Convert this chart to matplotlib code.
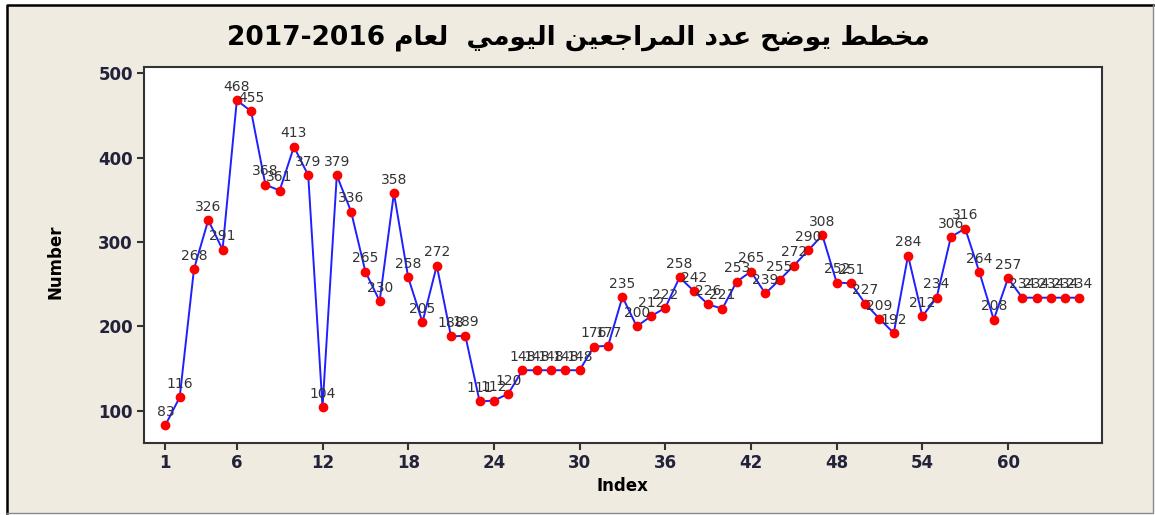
#!/usr/bin/env python
# -*- coding: utf-8 -*-
import numpy as np
import matplotlib
matplotlib.use('Agg')
import matplotlib.pyplot as plt
from matplotlib.patches import Rectangle
from matplotlib.lines import Line2D

# --- データ ---
index = list(range(1, 66))
visitors = [83, 116, 268, 326, 291, 468, 455, 368, 361, 413,
            379, 104, 379, 336, 265, 230, 358, 258, 205, 272,
            188, 189, 111, 112, 120, 148, 148, 148, 148, 148,
            176, 177, 235, 200, 212, 222, 258, 242, 226, 221,
            253, 265, 239, 255, 272, 290, 308, 252, 251, 227,
            209, 192, 284, 212, 234, 306, 316, 264, 208, 257,
            234, 234, 234, 234, 234]
xticks = [1, 6, 12, 18, 24, 30, 36, 42, 48, 54, 60]
yticks = [100, 200, 300, 400, 500]
title_ar = 'مخطط يوضح عدد المراجعين اليومي  لعام'
title_year = '2017-2016'

# アラビア文字の簡易シェーピング (iso, fin, ini, med)
FORMS = {
    'ا': ('\uFE8D', '\uFE8E', None, None),
    'ج': ('\uFE9D', '\uFE9E', '\uFE9F', '\uFEA0'),
    'ح': ('\uFEA1', '\uFEA2', '\uFEA3', '\uFEA4'),
    'خ': ('\uFEA5', '\uFEA6', '\uFEA7', '\uFEA8'),
    'د': ('\uFEA9', '\uFEAA', None, None),
    'ر': ('\uFEAD', '\uFEAE', None, None),
    'ض': ('\uFEBD', '\uFEBE', '\uFEBF', '\uFEC0'),
    'ط': ('\uFEC1', '\uFEC2', '\uFEC3', '\uFEC4'),
    'ع': ('\uFEC9', '\uFECA', '\uFECB', '\uFECC'),
    'ل': ('\uFEDD', '\uFEDE', '\uFEDF', '\uFEE0'),
    'م': ('\uFEE1', '\uFEE2', '\uFEE3', '\uFEE4'),
    'ن': ('\uFEE5', '\uFEE6', '\uFEE7', '\uFEE8'),
    'و': ('\uFEED', '\uFEEE', None, None),
    'ي': ('\uFEF1', '\uFEF2', '\uFEF3', '\uFEF4'),
}


def shape_arabic(text):
    out = []
    for i, ch in enumerate(text):
        if ch not in FORMS:
            out.append(ch)
            continue
        prev = text[i - 1] if i > 0 else ''
        nxt = text[i + 1] if i + 1 < len(text) else ''
        join_prev = prev in FORMS and FORMS[prev][2] is not None
        join_next = nxt in FORMS and FORMS[ch][2] is not None
        iso, fin, ini, med = FORMS[ch]
        if join_prev and join_next:
            out.append(med)
        elif join_prev:
            out.append(fin)
        elif join_next:
            out.append(ini)
        else:
            out.append(iso)
    # 左から右へ描画するため反転
    return ''.join(out)[::-1]


W, H = 1155, 515
fig = plt.figure(figsize=(W / 100, H / 100), dpi=100, facecolor='white')

# 外枠（ベージュ背景）
fig.patches.append(Rectangle((7 / W, 2 / H), 1146 / W, 508 / H, transform=fig.transFigure,
                             facecolor='#f0ebe1', edgecolor='none', zorder=-3))
fig.lines.append(Line2D([7 / W, 7 / W, 1153 / W], [2 / H, 510 / H, 510 / H],
                        transform=fig.transFigure, color='black', lw=1.8, zorder=-2))
fig.lines.append(Line2D([7 / W, 1153 / W, 1153 / W], [2 / H, 2 / H, 510 / H],
                        transform=fig.transFigure, color='#8a8a8a', lw=1.0, zorder=-2))

ax = fig.add_axes([144 / W, (H - 443.3) / H, 957.7 / W, 376 / H])
ax.set_facecolor('white')
ax.plot(index, visitors, color='#1f1fff', lw=1.4, marker='o', markersize=6,
        markerfacecolor='red', markeredgecolor='red', zorder=3)
for x, y in zip(index, visitors):
    ax.annotate(str(y), (x, y), xytext=(0, 4.5), textcoords='offset points',
                ha='center', va='bottom', fontsize=10, color='#333333', zorder=4)

ax.set_xlim(-0.5, 66.56)
ax.set_ylim(61.4, 507.1)
ax.set_xticks(xticks)
ax.set_yticks(yticks)
ax.tick_params(direction='out', length=5, width=1.5, color='#333333',
               labelsize=12, labelcolor='#22223a', pad=3)
for lab in ax.get_xticklabels() + ax.get_yticklabels():
    lab.set_fontweight('bold')
for sp in ax.spines.values():
    sp.set_color('#333333')
    sp.set_linewidth(1.5)

ax.set_xlabel('Index', fontsize=12, fontweight='bold', labelpad=3)
fig.text(55 / W, (H - 262) / H, 'Number', rotation=90, ha='center', va='center',
         fontsize=12, fontweight='bold')

title = title_year + ' ' + shape_arabic(title_ar)
fig.text(578 / W, (H - 38) / H, title, ha='center', va='center',
         fontsize=19, fontweight='bold', family=['DejaVu Sans'])

plt.savefig('out.png', dpi=100, facecolor=fig.get_facecolor())
